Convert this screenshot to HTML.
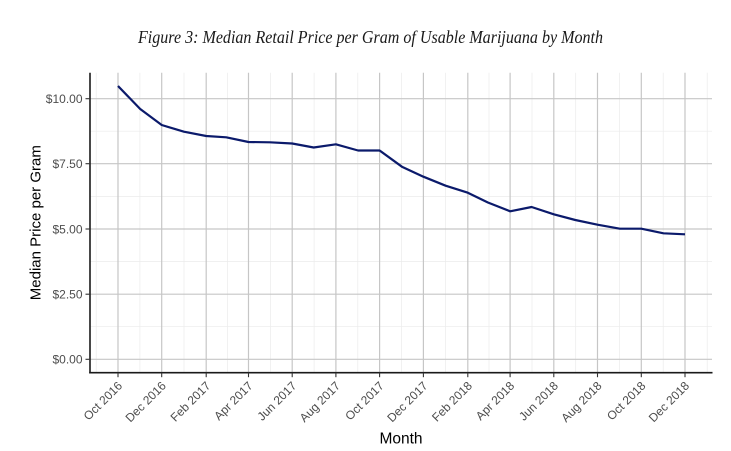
<!DOCTYPE html>
<html><head><meta charset="utf-8"><style>
html,body{margin:0;padding:0;background:#fff;}
svg{display:block;}
</style></head><body>
<svg width="731" height="451" viewBox="0 0 731 451" xmlns="http://www.w3.org/2000/svg">
<rect width="731" height="451" fill="#fff"/>
<text x="370.5" y="43" text-anchor="middle" font-family="Liberation Serif, serif" font-style="italic" font-size="18" fill="#1a1a1a" textLength="465" lengthAdjust="spacingAndGlyphs">Figure 3: Median Retail Price per Gram of Usable Marijuana by Month</text>
<g stroke="#ebebeb" stroke-width="0.7" fill="none">
<line x1="90" x2="712" y1="131.2" y2="131.2"/>
<line x1="90" x2="712" y1="196.4" y2="196.4"/>
<line x1="90" x2="712" y1="261.6" y2="261.6"/>
<line x1="90" x2="712" y1="326.7" y2="326.7"/>
<line x1="96.2" x2="96.2" y1="72.7" y2="372.7"/>
<line x1="139.9" x2="139.9" y1="72.7" y2="372.7"/>
<line x1="184" x2="184" y1="72.7" y2="372.7"/>
<line x1="227.4" x2="227.4" y1="72.7" y2="372.7"/>
<line x1="270.4" x2="270.4" y1="72.7" y2="372.7"/>
<line x1="314.1" x2="314.1" y1="72.7" y2="372.7"/>
<line x1="357.8" x2="357.8" y1="72.7" y2="372.7"/>
<line x1="401.5" x2="401.5" y1="72.7" y2="372.7"/>
<line x1="445.6" x2="445.6" y1="72.7" y2="372.7"/>
<line x1="489" x2="489" y1="72.7" y2="372.7"/>
<line x1="532" x2="532" y1="72.7" y2="372.7"/>
<line x1="575.7" x2="575.7" y1="72.7" y2="372.7"/>
<line x1="619.4" x2="619.4" y1="72.7" y2="372.7"/>
<line x1="663.2" x2="663.2" y1="72.7" y2="372.7"/>
<line x1="707.2" x2="707.2" y1="72.7" y2="372.7"/>
</g>
<g stroke="#c6c6c6" stroke-width="1.2" fill="none">
<line x1="90" x2="712" y1="98.7" y2="98.7"/>
<line x1="90" x2="712" y1="163.7" y2="163.7"/>
<line x1="90" x2="712" y1="229" y2="229"/>
<line x1="90" x2="712" y1="294.2" y2="294.2"/>
<line x1="90" x2="712" y1="359.3" y2="359.3"/>
<line x1="118" x2="118" y1="72.7" y2="372.7"/>
<line x1="161.7" x2="161.7" y1="72.7" y2="372.7"/>
<line x1="206.2" x2="206.2" y1="72.7" y2="372.7"/>
<line x1="248.5" x2="248.5" y1="72.7" y2="372.7"/>
<line x1="292.2" x2="292.2" y1="72.7" y2="372.7"/>
<line x1="335.9" x2="335.9" y1="72.7" y2="372.7"/>
<line x1="379.6" x2="379.6" y1="72.7" y2="372.7"/>
<line x1="423.4" x2="423.4" y1="72.7" y2="372.7"/>
<line x1="467.8" x2="467.8" y1="72.7" y2="372.7"/>
<line x1="510.1" x2="510.1" y1="72.7" y2="372.7"/>
<line x1="553.8" x2="553.8" y1="72.7" y2="372.7"/>
<line x1="597.5" x2="597.5" y1="72.7" y2="372.7"/>
<line x1="641.3" x2="641.3" y1="72.7" y2="372.7"/>
<line x1="685" x2="685" y1="72.7" y2="372.7"/>
</g>
<polyline fill="none" stroke="#0b1a6b" stroke-width="2.2" stroke-linejoin="round" stroke-linecap="butt" points="118,86 140.2,109 161.7,125 183.9,131.7 206.2,136 226.2,137.3 248.5,142 270,142.3 292.2,143.5 313.7,147.5 335.9,144.3 358.1,150.5 379.6,150.5 401.9,166.7 423.4,176.7 445.6,185.7 467.8,192.7 487.9,202.5 510.1,211.3 531.6,207 553.8,214.3 575.3,220 597.5,224.7 619.8,228.7 641.3,228.7 663.5,233.3 685,234.3"/>
<g stroke="#1a1a1a" stroke-width="1.6" fill="none">
<line x1="90" x2="90" y1="72.7" y2="373.5"/>
<line x1="89.2" x2="712.5" y1="372.7" y2="372.7"/>
</g>
<g stroke="#333" stroke-width="1.1">
<line x1="85.5" x2="90" y1="98.7" y2="98.7"/>
<line x1="85.5" x2="90" y1="163.7" y2="163.7"/>
<line x1="85.5" x2="90" y1="229" y2="229"/>
<line x1="85.5" x2="90" y1="294.2" y2="294.2"/>
<line x1="85.5" x2="90" y1="359.3" y2="359.3"/>
<line x1="118" x2="118" y1="372.7" y2="377.2"/>
<line x1="161.7" x2="161.7" y1="372.7" y2="377.2"/>
<line x1="206.2" x2="206.2" y1="372.7" y2="377.2"/>
<line x1="248.5" x2="248.5" y1="372.7" y2="377.2"/>
<line x1="292.2" x2="292.2" y1="372.7" y2="377.2"/>
<line x1="335.9" x2="335.9" y1="372.7" y2="377.2"/>
<line x1="379.6" x2="379.6" y1="372.7" y2="377.2"/>
<line x1="423.4" x2="423.4" y1="372.7" y2="377.2"/>
<line x1="467.8" x2="467.8" y1="372.7" y2="377.2"/>
<line x1="510.1" x2="510.1" y1="372.7" y2="377.2"/>
<line x1="553.8" x2="553.8" y1="372.7" y2="377.2"/>
<line x1="597.5" x2="597.5" y1="372.7" y2="377.2"/>
<line x1="641.3" x2="641.3" y1="372.7" y2="377.2"/>
<line x1="685" x2="685" y1="372.7" y2="377.2"/>
</g>
<g font-family="Liberation Sans, sans-serif" font-size="12" fill="#4d4d4d" text-anchor="end">
<text x="82.5" y="103">$10.00</text>
<text x="82.5" y="168">$7.50</text>
<text x="82.5" y="233.3">$5.00</text>
<text x="82.5" y="298.5">$2.50</text>
<text x="82.5" y="363.6">$0.00</text>
<text transform="translate(123,386.5) rotate(-45)">Oct 2016</text>
<text transform="translate(166.7,386.5) rotate(-45)">Dec 2016</text>
<text transform="translate(211.2,386.5) rotate(-45)">Feb 2017</text>
<text transform="translate(253.5,386.5) rotate(-45)">Apr 2017</text>
<text transform="translate(297.2,386.5) rotate(-45)">Jun 2017</text>
<text transform="translate(340.9,386.5) rotate(-45)">Aug 2017</text>
<text transform="translate(384.6,386.5) rotate(-45)">Oct 2017</text>
<text transform="translate(428.4,386.5) rotate(-45)">Dec 2017</text>
<text transform="translate(472.8,386.5) rotate(-45)">Feb 2018</text>
<text transform="translate(515.1,386.5) rotate(-45)">Apr 2018</text>
<text transform="translate(558.8,386.5) rotate(-45)">Jun 2018</text>
<text transform="translate(602.5,386.5) rotate(-45)">Aug 2018</text>
<text transform="translate(646.3,386.5) rotate(-45)">Oct 2018</text>
<text transform="translate(690,386.5) rotate(-45)">Dec 2018</text>
</g>
<text x="401" y="443.5" text-anchor="middle" font-family="Liberation Sans, sans-serif" font-size="15.5" fill="#000">Month</text>
<text transform="translate(40.5,222.7) rotate(-90)" text-anchor="middle" font-family="Liberation Sans, sans-serif" font-size="15" fill="#000">Median Price per Gram</text>
</svg>
</body></html>
